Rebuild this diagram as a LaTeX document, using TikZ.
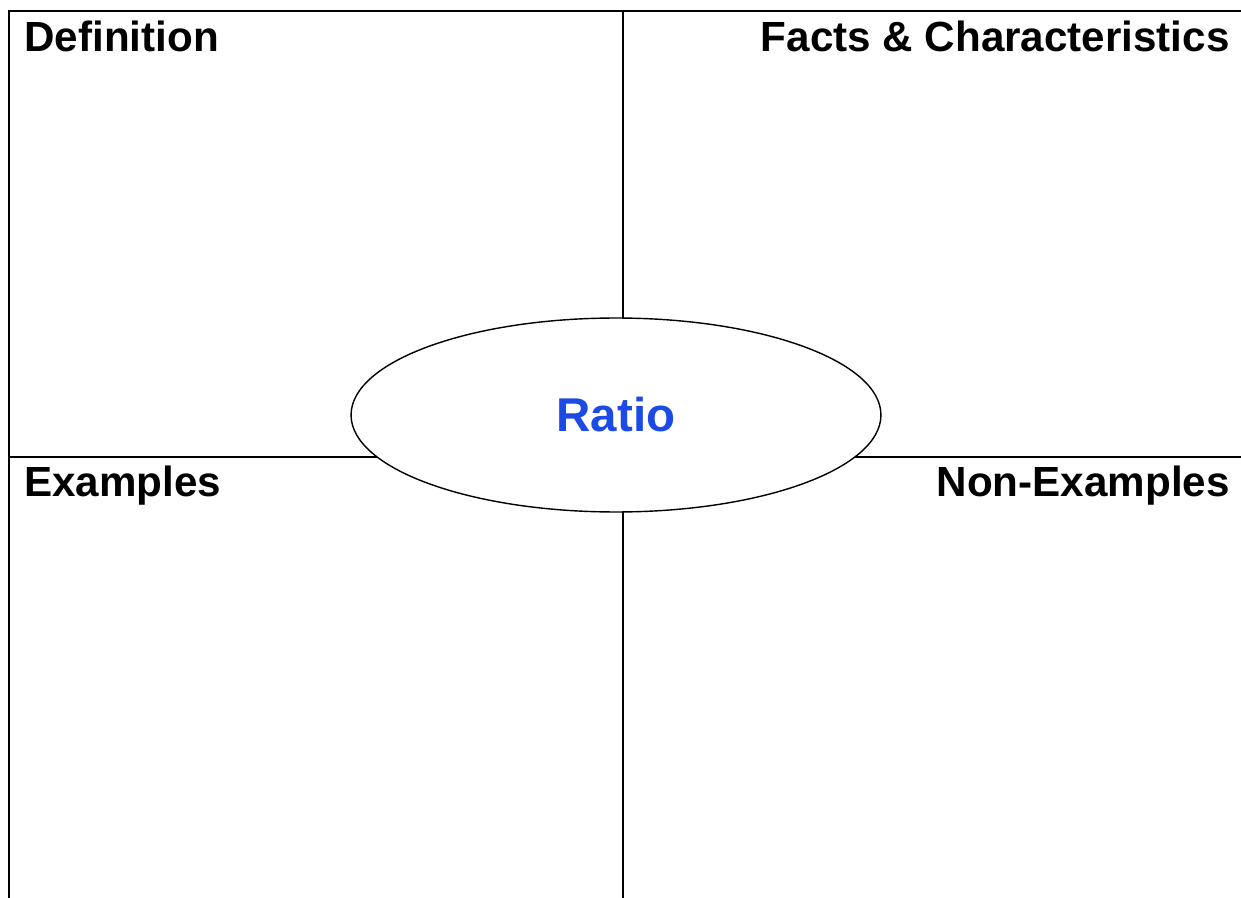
\documentclass[tikz,border=0pt]{standalone}
\usepackage{fontspec}
\setmainfont{Liberation Sans}
\usetikzlibrary{shapes.geometric}
\definecolor{ink}{HTML}{000000}
\definecolor{cterm}{HTML}{1B4AE6}
\tikzset{
  grid/.style={draw=ink, line width=1.1pt},
  hdr/.style={font=\fontsize{24}{28}\selectfont\bfseries, text=ink, inner sep=0pt},
  term/.style={draw=ink, line width=0.8pt, ellipse, fill=white, inner sep=0pt,
               minimum width=10.6cm, minimum height=3.88cm,
               font=\fontsize{27}{32}\selectfont\bfseries, text=cterm},
}

\begin{document}
\begin{tikzpicture}[x=0.02cm, y=-0.02cm]
\useasboundingbox (0,0) rectangle (1241,898);
  % ---- frame corners and splits ----
  \coordinate (tl) at (9,11);
  \coordinate (tr) at (1241,11);
  \coordinate (bl) at (9,898);
  \coordinate (tm) at (623,11);
  \coordinate (bm) at (623,898);
  \coordinate (ml) at (9,457);
  \coordinate (mr) at (1241,457);
  \draw[grid] (bl) -- (tl) -- (tr);
  \draw[grid] (tm) -- (bm);
  \draw[grid] (ml) -- (mr);
  % ---- centre term ----
  \node[term] (ratio) at (616,415) {Ratio};
  % ---- quadrant headings ----
  \node[hdr, anchor=base west] (defn)   at (24,52)   {Definition};
  \node[hdr, anchor=base east] (facts)  at (1230,52) {Facts \& Characteristics};
  \node[hdr, anchor=base west] (exs)    at (24,497)  {Examples};
  \node[hdr, anchor=base east] (nonexs) at (1230,497) {Non-Examples};
\end{tikzpicture}
\end{document}
